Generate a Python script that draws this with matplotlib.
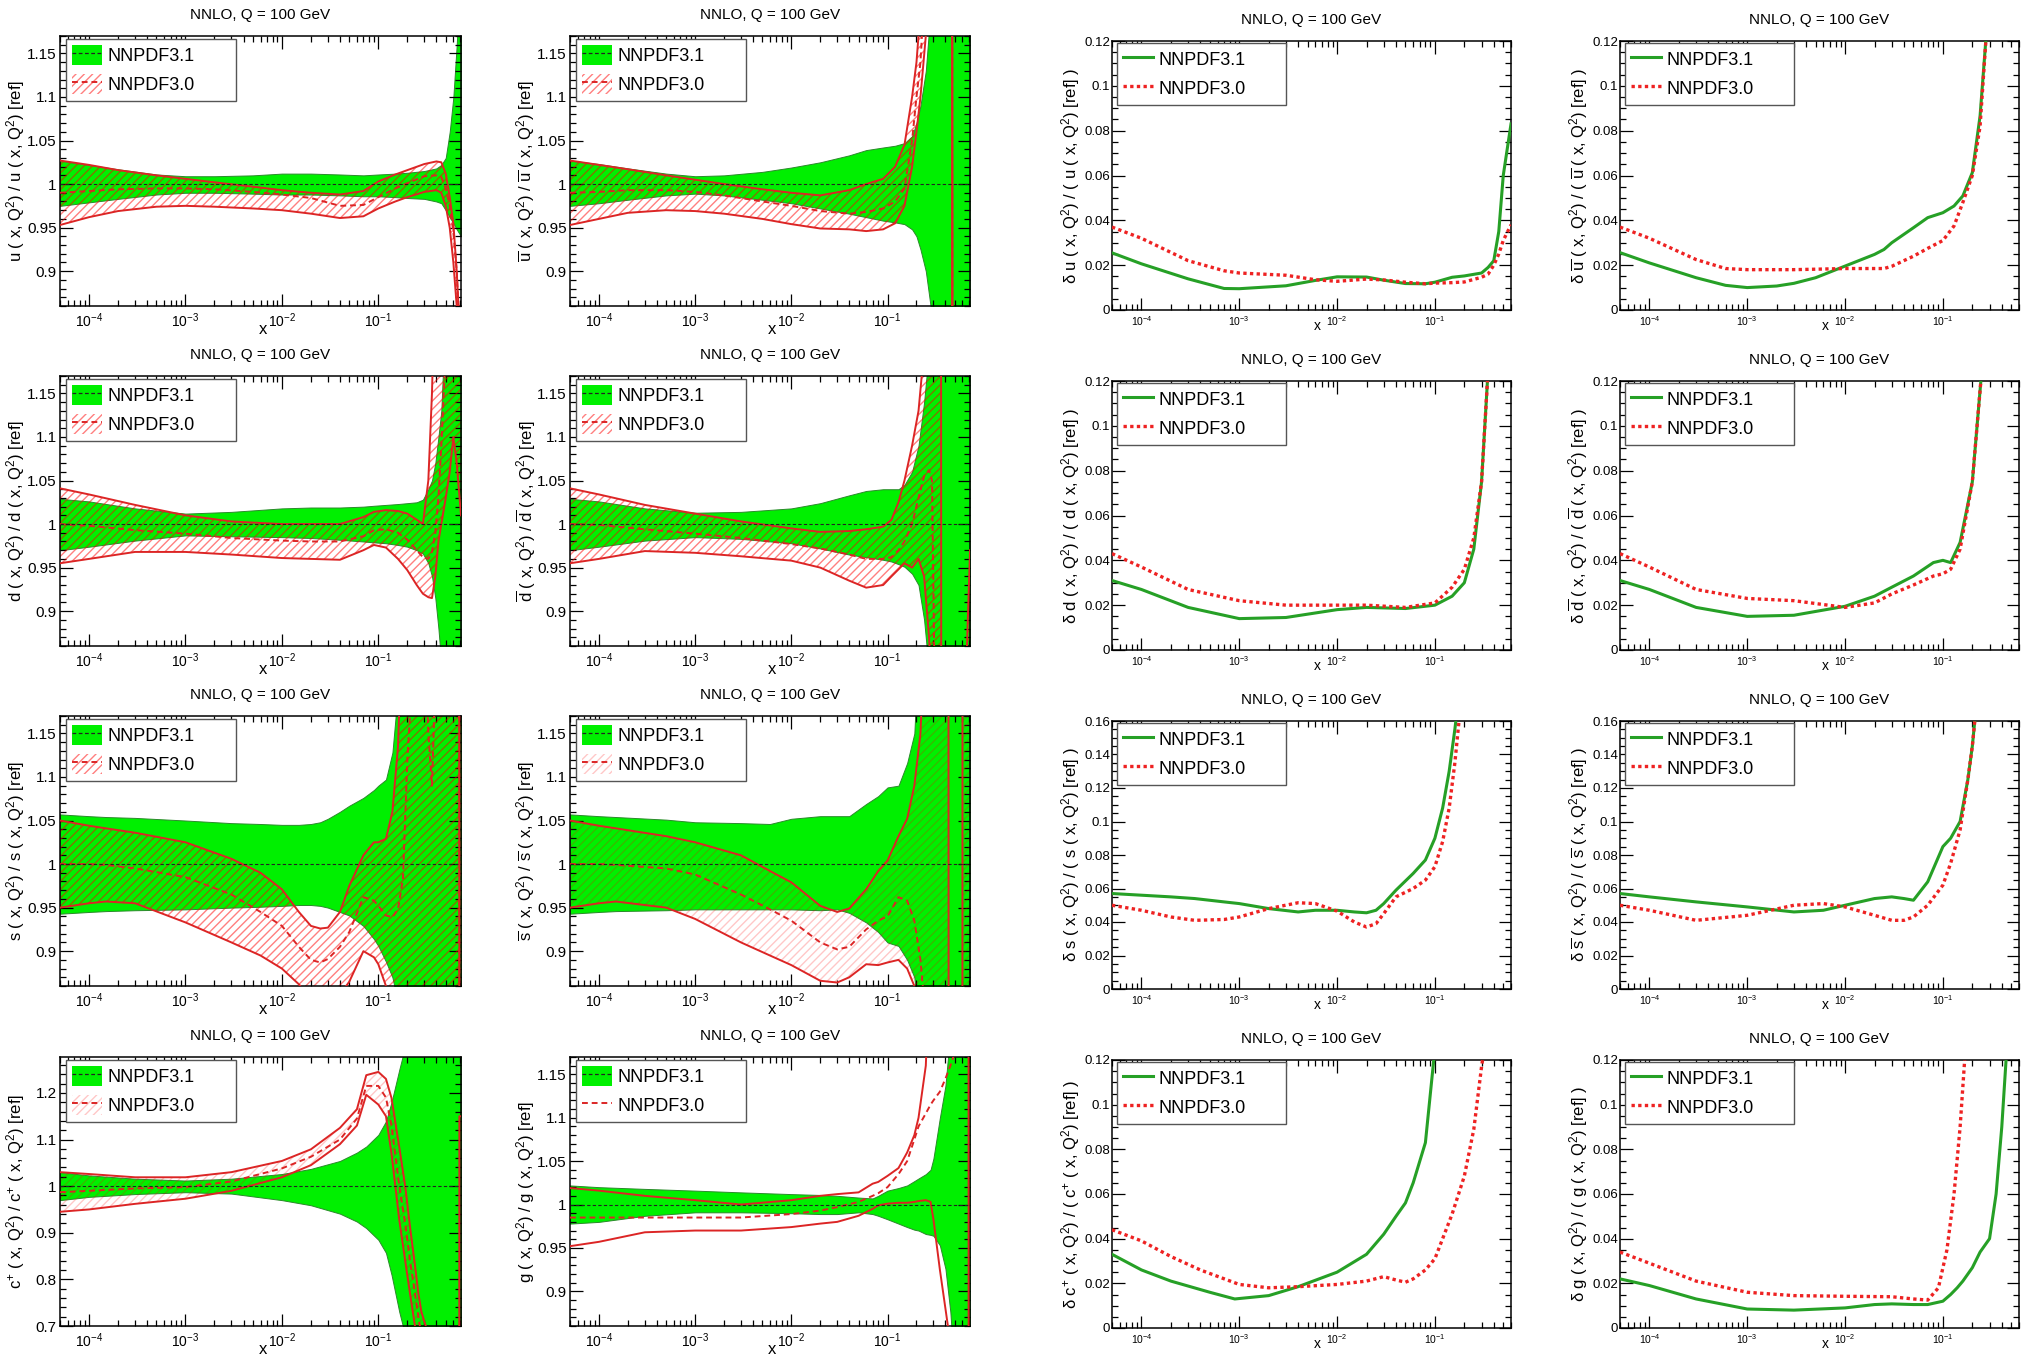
import numpy as np
import matplotlib
matplotlib.use("Agg")
import matplotlib.pyplot as plt
from matplotlib.ticker import MultipleLocator, LogLocator, NullFormatter, FuncFormatter
from matplotlib.patches import Patch
from matplotlib.lines import Line2D

plt.rcParams.update({
    "font.family": ["Liberation Sans", "DejaVu Sans"],
    "mathtext.fontset": "custom",
    "mathtext.rm": "Liberation Sans",
    "mathtext.it": "Liberation Sans:italic",
    "mathtext.bf": "Liberation Sans:bold",
    "mathtext.sf": "Liberation Sans",
    "hatch.linewidth": 1.0,
    "axes.linewidth": 1.1,
})

# ---------------- ratio to NNPDF3.1 central value ----------------
# up quark
U_X = [5e-5, 1e-4, 2e-4, 5e-4, 1e-3, 2e-3, 5e-3, 1e-2, 2e-2, 4e-2, 7e-2, 0.1, 0.15, 0.2, 0.3, 0.4, 0.45, 0.5, 0.55, 0.6, 0.65, 0.72]
U_31_LO = [0.975, 0.979, 0.983, 0.988, 0.990, 0.990, 0.989, 0.988, 0.988, 0.987, 0.986, 0.986, 0.985, 0.984, 0.983, 0.980, 0.978, 0.970, 0.962, 0.955, 0.948, 0.940]
U_31_HI = [1.027, 1.022, 1.017, 1.011, 1.009, 1.009, 1.010, 1.012, 1.012, 1.011, 1.010, 1.011, 1.012, 1.013, 1.015, 1.018, 1.022, 1.030, 1.060, 1.100, 1.160, 1.250]
U_30_C = [0.990, 0.992, 0.994, 0.995, 0.995, 0.994, 0.991, 0.988, 0.984, 0.975, 0.976, 0.985, 0.995, 1.001, 1.009, 1.010, 1.008, 0.995, 0.975, 0.945, 0.900, 0.800]
U_30_LO = [0.953, 0.962, 0.969, 0.974, 0.975, 0.974, 0.972, 0.970, 0.966, 0.961, 0.963, 0.972, 0.980, 0.985, 0.991, 0.993, 0.990, 0.975, 0.950, 0.910, 0.860, 0.750]
U_30_HI = [1.027, 1.022, 1.016, 1.010, 1.006, 1.002, 0.997, 0.993, 0.990, 0.988, 0.992, 1.003, 1.011, 1.016, 1.023, 1.026, 1.025, 1.012, 0.985, 0.955, 0.900, 0.800]

# anti-up quark
UB_X = [5e-5, 1e-4, 2e-4, 5e-4, 1e-3, 2e-3, 5e-3, 1e-2, 2e-2, 4e-2, 6e-2, 0.09, 0.12, 0.15, 0.18, 0.2, 0.22, 0.25, 0.28, 0.32, 0.4, 0.47, 0.472, 0.72]
UB_31_LO = [0.975, 0.978, 0.982, 0.987, 0.989, 0.987, 0.982, 0.978, 0.972, 0.966, 0.962, 0.958, 0.956, 0.954, 0.948, 0.940, 0.925, 0.900, 0.860, 0.800, 0.700, 0.700, 0.700, 0.700]
UB_31_HI = [1.027, 1.023, 1.018, 1.012, 1.009, 1.010, 1.014, 1.019, 1.025, 1.033, 1.039, 1.042, 1.044, 1.047, 1.055, 1.070, 1.090, 1.130, 1.200, 1.300, 1.300, 1.300, 1.300, 1.300]
UB_30_C = [0.990, 0.991, 0.993, 0.993, 0.991, 0.987, 0.980, 0.975, 0.969, 0.966, 0.968, 0.972, 0.980, 0.995, 1.050, 1.100, 1.140, 1.250, 1.300, 1.300, 1.300, 1.300, 0.700, 0.700]
UB_30_LO = [0.953, 0.960, 0.967, 0.970, 0.969, 0.966, 0.960, 0.954, 0.949, 0.948, 0.946, 0.948, 0.955, 0.975, 1.020, 1.060, 1.100, 1.170, 1.300, 1.300, 1.300, 1.300, 0.700, 0.700]
UB_30_HI = [1.027, 1.022, 1.017, 1.010, 1.005, 1.000, 0.994, 0.990, 0.987, 0.993, 1.000, 1.006, 1.020, 1.045, 1.100, 1.140, 1.200, 1.300, 1.300, 1.300, 1.300, 1.300, 0.700, 0.700]

# down quark
D_X = [5e-5, 1e-4, 3e-4, 1e-3, 3e-3, 1e-2, 2e-2, 4e-2, 7e-2, 0.09, 0.12, 0.16, 0.2, 0.25, 0.29, 0.33, 0.36, 0.39, 0.42, 0.45, 0.5, 0.55, 0.6, 0.65, 0.72]
D_31_HI = [1.029, 1.026, 1.018, 1.012, 1.014, 1.018, 1.019, 1.019, 1.020, 1.021, 1.022, 1.023, 1.024, 1.025, 1.028, 1.040, 1.050, 1.070, 1.100, 1.130, 1.250, 1.300, 1.300, 1.300, 1.300]
D_31_LO = [0.970, 0.974, 0.981, 0.987, 0.986, 0.985, 0.984, 0.982, 0.980, 0.979, 0.978, 0.976, 0.974, 0.970, 0.966, 0.955, 0.940, 0.915, 0.880, 0.840, 0.780, 0.700, 0.700, 0.700, 0.700]
D_30_C = [1.000, 0.998, 0.993, 0.989, 0.984, 0.981, 0.980, 0.980, 0.986, 0.993, 0.994, 0.990, 0.982, 0.970, 0.962, 0.960, 0.968, 0.990, 1.030, 1.090, 1.200, 1.300, 1.300, 1.300, 1.300]
D_30_LO = [0.955, 0.960, 0.968, 0.968, 0.965, 0.961, 0.960, 0.959, 0.970, 0.976, 0.973, 0.960, 0.947, 0.930, 0.920, 0.916, 0.915, 0.940, 0.980, 1.000, 1.030, 1.060, 1.100, 1.070, 1.010]
D_30_HI = [1.041, 1.034, 1.022, 1.010, 1.003, 1.000, 1.000, 1.000, 1.008, 1.014, 1.016, 1.015, 1.012, 1.005, 1.000, 1.050, 1.150, 1.300, 1.300, 1.300, 1.300, 1.300, 1.300, 1.300, 1.300]

# anti-down quark
DB_X = [5e-5, 1e-4, 3e-4, 1e-3, 3e-3, 1e-2, 2e-2, 4e-2, 6e-2, 0.09, 0.11, 0.13, 0.15, 0.18, 0.21, 0.24, 0.27, 0.29, 0.31, 0.33, 0.36, 0.362, 0.64, 0.67, 0.72]
DB_31_HI = [1.029, 1.026, 1.018, 1.013, 1.014, 1.018, 1.024, 1.033, 1.038, 1.040, 1.040, 1.040, 1.045, 1.060, 1.090, 1.140, 1.200, 1.300, 1.300, 1.300, 1.300, 1.300, 1.300, 1.300, 1.300]
DB_31_LO = [0.970, 0.974, 0.981, 0.985, 0.983, 0.978, 0.972, 0.965, 0.962, 0.959, 0.957, 0.954, 0.951, 0.943, 0.930, 0.890, 0.830, 0.780, 0.700, 0.700, 0.700, 0.700, 0.700, 0.700, 0.700]
DB_30_C = [1.000, 0.999, 0.994, 0.989, 0.984, 0.977, 0.972, 0.965, 0.960, 0.960, 0.962, 0.970, 0.980, 1.000, 1.030, 1.055, 1.062, 1.050, 0.800, 0.700, 0.700, 0.700, 0.700, 0.700, 0.700]
DB_30_LO = [0.955, 0.960, 0.969, 0.967, 0.963, 0.958, 0.950, 0.935, 0.927, 0.930, 0.940, 0.948, 0.955, 0.950, 0.960, 0.940, 0.870, 0.800, 0.700, 0.700, 0.700, 0.700, 0.700, 0.700, 0.700]
DB_30_HI = [1.041, 1.034, 1.022, 1.012, 1.003, 0.995, 0.991, 0.992, 0.994, 0.997, 1.005, 1.025, 1.050, 1.090, 1.130, 1.200, 1.300, 1.300, 1.300, 1.300, 1.300, 0.700, 0.700, 0.860, 0.970]

# strange quark
S_X = [5e-5, 1e-4, 1.5e-4, 3e-4, 1e-3, 3e-3, 6e-3, 1e-2, 1.5e-2, 2e-2, 2.5e-2, 3e-2, 4e-2, 5e-2, 7e-2, 0.09, 0.1, 0.12, 0.14, 0.16, 0.18, 0.2, 0.25, 0.3, 0.33, 0.36, 0.4, 0.69, 0.692, 0.72]
S_31_HI = [1.057, 1.055, 1.054, 1.053, 1.050, 1.047, 1.046, 1.045, 1.045, 1.046, 1.048, 1.052, 1.060, 1.067, 1.076, 1.085, 1.090, 1.097, 1.128, 1.200, 1.300, 1.300, 1.300, 1.300, 1.300, 1.300, 1.300, 1.300, 1.300, 1.300]
S_31_LO = [0.943, 0.945, 0.946, 0.947, 0.948, 0.950, 0.951, 0.952, 0.953, 0.953, 0.952, 0.950, 0.945, 0.941, 0.929, 0.914, 0.906, 0.888, 0.870, 0.840, 0.780, 0.700, 0.700, 0.700, 0.700, 0.700, 0.700, 0.700, 0.700, 0.700]
S_30_C = [1.000, 1.000, 0.999, 0.995, 0.985, 0.965, 0.945, 0.929, 0.905, 0.890, 0.887, 0.891, 0.905, 0.922, 0.962, 0.958, 0.952, 0.941, 0.939, 0.948, 0.983, 1.120, 1.300, 1.300, 1.150, 1.090, 1.250, 1.300, 0.700, 0.700]
S_30_LO = [0.950, 0.955, 0.957, 0.955, 0.933, 0.910, 0.895, 0.880, 0.862, 0.845, 0.840, 0.840, 0.850, 0.865, 0.900, 0.893, 0.885, 0.860, 0.800, 0.700, 0.700, 0.700, 0.700, 0.700, 0.700, 0.700, 0.700, 0.700, 0.700, 0.700]
S_30_HI = [1.050, 1.044, 1.041, 1.036, 1.025, 1.006, 0.990, 0.971, 0.945, 0.929, 0.926, 0.927, 0.945, 0.975, 1.010, 1.025, 1.025, 1.029, 1.060, 1.135, 1.300, 1.300, 1.300, 1.300, 1.300, 1.300, 1.300, 1.300, 0.700, 0.700]

# anti-strange quark
SB_X = [5e-5, 1e-4, 1.5e-4, 5e-4, 1e-3, 3e-3, 6e-3, 1e-2, 2e-2, 3e-2, 4e-2, 6e-2, 8e-2, 0.1, 0.13, 0.16, 0.19, 0.22, 0.25, 0.43, 0.432, 0.6, 0.602, 0.72]
SB_31_HI = [1.057, 1.055, 1.054, 1.051, 1.048, 1.047, 1.046, 1.052, 1.055, 1.055, 1.055, 1.069, 1.078, 1.088, 1.090, 1.116, 1.150, 1.300, 1.300, 1.300, 1.300, 1.300, 1.300, 1.300]
SB_31_LO = [0.943, 0.945, 0.946, 0.947, 0.948, 0.948, 0.948, 0.948, 0.947, 0.948, 0.944, 0.933, 0.922, 0.910, 0.906, 0.890, 0.870, 0.800, 0.700, 0.700, 0.700, 0.700, 0.700, 0.700]
SB_30_C = [1.000, 1.000, 0.999, 0.995, 0.988, 0.965, 0.948, 0.935, 0.910, 0.902, 0.905, 0.925, 0.935, 0.940, 0.962, 0.958, 0.935, 0.890, 0.820, 0.700, 0.700, 0.700, 0.700, 0.700]
SB_30_LO = [0.950, 0.955, 0.957, 0.950, 0.937, 0.910, 0.895, 0.884, 0.866, 0.864, 0.870, 0.885, 0.884, 0.887, 0.890, 0.880, 0.860, 0.800, 0.700, 0.700, 0.700, 0.700, 0.700, 0.700]
SB_30_HI = [1.050, 1.044, 1.041, 1.032, 1.025, 1.010, 0.992, 0.979, 0.952, 0.945, 0.949, 0.971, 0.992, 1.004, 1.032, 1.052, 1.090, 1.150, 1.300, 1.300, 0.700, 0.700, 1.300, 1.300]

# charm (c+)
C_X = [5e-5, 1e-4, 3e-4, 1e-3, 3e-3, 1e-2, 2e-2, 4e-2, 6e-2, 0.075, 0.1, 0.12, 0.137, 0.165, 0.19, 0.213, 0.24, 0.26, 0.28, 0.31, 0.69, 0.692, 0.72]
C_31_HI = [1.030, 1.023, 1.016, 1.012, 1.016, 1.026, 1.037, 1.054, 1.072, 1.085, 1.110, 1.139, 1.180, 1.250, 1.300, 1.400, 1.400, 1.400, 1.400, 1.400, 1.400, 1.400, 1.400]
C_31_LO = [0.970, 0.977, 0.983, 0.987, 0.984, 0.970, 0.959, 0.941, 0.924, 0.910, 0.885, 0.857, 0.810, 0.730, 0.680, 0.600, 0.600, 0.600, 0.600, 0.600, 0.600, 0.600, 0.600]
C_30_C = [0.987, 0.990, 0.995, 0.998, 1.010, 1.038, 1.063, 1.100, 1.145, 1.215, 1.215, 1.190, 1.130, 1.000, 0.920, 0.840, 0.770, 0.720, 0.680, 0.620, 0.600, 0.600, 0.600]
C_30_LO = [0.945, 0.950, 0.962, 0.973, 0.990, 1.019, 1.045, 1.090, 1.130, 1.196, 1.175, 1.150, 1.070, 0.927, 0.840, 0.770, 0.700, 0.660, 0.620, 0.600, 0.600, 0.600, 0.600]
C_30_HI = [1.030, 1.026, 1.019, 1.019, 1.030, 1.054, 1.079, 1.125, 1.165, 1.238, 1.245, 1.230, 1.189, 1.083, 1.000, 0.913, 0.830, 0.770, 0.730, 0.700, 0.600, 1.150, 1.150]

# gluon
G_X = [5e-5, 1e-4, 3e-4, 1e-3, 3e-3, 1e-2, 2e-2, 3e-2, 5e-2, 7e-2, 0.08, 0.1, 0.13, 0.16, 0.19, 0.21, 0.25, 0.28, 0.3, 0.35, 0.4, 0.45, 0.5, 0.695, 0.697, 0.72]
G_31_HI = [1.022, 1.020, 1.018, 1.016, 1.014, 1.012, 1.011, 1.010, 1.008, 1.007, 1.010, 1.016, 1.019, 1.022, 1.027, 1.030, 1.035, 1.040, 1.053, 1.100, 1.137, 1.200, 1.300, 1.300, 1.300, 1.300]
G_31_LO = [0.978, 0.980, 0.987, 0.991, 0.991, 0.990, 0.989, 0.989, 0.991, 0.989, 0.987, 0.983, 0.978, 0.974, 0.971, 0.970, 0.966, 0.965, 0.964, 0.953, 0.926, 0.876, 0.800, 0.700, 0.700, 0.700]
G_30_C = [0.985, 0.985, 0.985, 0.985, 0.985, 0.989, 0.993, 0.997, 1.003, 1.010, 1.013, 1.020, 1.035, 1.050, 1.075, 1.090, 1.105, 1.115, 1.120, 1.130, 1.145, 1.160, 1.175, 1.300, 1.300, 1.300]
G_30_LO = [0.952, 0.957, 0.968, 0.970, 0.970, 0.974, 0.978, 0.980, 0.987, 0.995, 0.999, 1.001, 1.002, 1.002, 1.003, 1.004, 1.005, 1.003, 0.983, 0.925, 0.880, 0.840, 0.800, 0.700, 0.700, 0.700]
G_30_HI = [1.019, 1.016, 1.010, 1.005, 1.000, 1.005, 1.010, 1.012, 1.014, 1.024, 1.026, 1.033, 1.042, 1.060, 1.080, 1.100, 1.160, 1.300, 1.300, 1.300, 1.300, 1.300, 1.300, 1.300, 0.700, 0.700]

# ---------------- relative PDF uncertainties ----------------
DU_X = [5e-5, 1e-4, 3e-4, 7e-4, 1e-3, 3e-3, 6e-3, 1e-2, 2e-2, 3e-2, 5e-2, 8e-2, 0.1, 0.15, 0.2, 0.3, 0.35, 0.4, 0.45, 0.5, 0.6]
DU_31 = [0.0255, 0.0206, 0.0139, 0.0096, 0.0095, 0.0108, 0.0132, 0.0148, 0.0147, 0.0133, 0.0118, 0.0117, 0.0124, 0.0146, 0.0152, 0.0165, 0.0190, 0.0220, 0.0350, 0.0600, 0.0830]
DU_30 = [0.0370, 0.0320, 0.0220, 0.0175, 0.0165, 0.0155, 0.0135, 0.0128, 0.0138, 0.0134, 0.0124, 0.0117, 0.0120, 0.0122, 0.0125, 0.0146, 0.0160, 0.0200, 0.0250, 0.0310, 0.0380]

DUB_X = [5e-5, 1e-4, 3e-4, 6e-4, 1e-3, 2e-3, 3e-3, 5e-3, 1e-2, 2e-2, 2.5e-2, 3e-2, 5e-2, 7e-2, 0.1, 0.13, 0.16, 0.2, 0.24, 0.28]
DUB_31 = [0.0256, 0.0210, 0.0144, 0.0110, 0.0100, 0.0107, 0.0119, 0.0144, 0.0196, 0.0248, 0.0270, 0.0300, 0.0367, 0.0412, 0.0434, 0.0464, 0.0509, 0.0613, 0.0866, 0.1250]
DUB_30 = [0.0370, 0.0320, 0.0225, 0.0185, 0.0180, 0.0180, 0.0180, 0.0182, 0.0185, 0.0185, 0.0185, 0.0195, 0.0240, 0.0275, 0.0310, 0.0375, 0.0480, 0.0600, 0.0820, 0.1250]

DD_X = [5e-5, 1e-4, 3e-4, 1e-3, 3e-3, 1e-2, 2e-2, 5e-2, 0.1, 0.15, 0.2, 0.25, 0.3, 0.35]
DD_31 = [0.031, 0.027, 0.019, 0.014, 0.0145, 0.018, 0.019, 0.0185, 0.020, 0.024, 0.030, 0.045, 0.075, 0.125]
DD_30 = [0.043, 0.037, 0.027, 0.022, 0.020, 0.020, 0.020, 0.019, 0.021, 0.028, 0.036, 0.050, 0.075, 0.125]

DDB_X = [5e-5, 1e-4, 3e-4, 1e-3, 3e-3, 1e-2, 2e-2, 3e-2, 5e-2, 8e-2, 0.1, 0.12, 0.15, 0.2, 0.25]
DDB_31 = [0.031, 0.027, 0.019, 0.015, 0.0155, 0.0195, 0.024, 0.028, 0.033, 0.039, 0.040, 0.039, 0.048, 0.075, 0.125]
DDB_30 = [0.043, 0.037, 0.027, 0.023, 0.022, 0.019, 0.021, 0.025, 0.029, 0.033, 0.034, 0.036, 0.045, 0.075, 0.125]

DS_X = [5e-5, 1e-4, 2e-4, 3.5e-4, 7e-4, 1e-3, 2e-3, 4e-3, 6e-3, 1e-2, 1.5e-2, 2e-2, 2.5e-2, 3e-2, 4e-2, 6e-2, 8e-2, 0.1, 0.12, 0.14, 0.16, 0.18]
DS_31 = [0.057, 0.056, 0.055, 0.054, 0.052, 0.051, 0.048, 0.046, 0.047, 0.047, 0.046, 0.0455, 0.047, 0.051, 0.059, 0.069, 0.077, 0.090, 0.108, 0.130, 0.155, 0.180]
DS_30 = [0.050, 0.047, 0.043, 0.041, 0.0415, 0.043, 0.048, 0.0515, 0.051, 0.0465, 0.040, 0.037, 0.039, 0.045, 0.055, 0.060, 0.065, 0.073, 0.088, 0.108, 0.135, 0.165]

DSB_X = [5e-5, 1e-4, 3e-4, 1e-3, 3e-3, 6e-3, 1e-2, 2e-2, 3e-2, 4e-2, 5e-2, 7e-2, 0.1, 0.12, 0.15, 0.18, 0.2, 0.22]
DSB_31 = [0.057, 0.055, 0.052, 0.049, 0.046, 0.047, 0.050, 0.054, 0.055, 0.054, 0.053, 0.064, 0.085, 0.090, 0.100, 0.125, 0.145, 0.170]
DSB_30 = [0.050, 0.047, 0.041, 0.044, 0.050, 0.051, 0.049, 0.044, 0.041, 0.041, 0.043, 0.050, 0.062, 0.075, 0.095, 0.125, 0.145, 0.170]

DC_X31 = [5e-5, 1e-4, 2e-4, 5e-4, 9e-4, 2e-3, 4e-3, 1e-2, 2e-2, 3e-2, 4e-2, 5e-2, 6e-2, 8e-2, 0.1]
DC_31 = [0.033, 0.026, 0.021, 0.016, 0.013, 0.0145, 0.0185, 0.025, 0.033, 0.042, 0.050, 0.056, 0.065, 0.083, 0.125]
DC_X30 = [5e-5, 1e-4, 2e-4, 4e-4, 1e-3, 2e-3, 4e-3, 1e-2, 2e-2, 3e-2, 4e-2, 5e-2, 6e-2, 8e-2, 0.1, 0.15, 0.2, 0.25, 0.3, 0.32]
DC_30 = [0.044, 0.039, 0.032, 0.026, 0.0195, 0.018, 0.0185, 0.0195, 0.021, 0.023, 0.0215, 0.0205, 0.022, 0.026, 0.031, 0.051, 0.068, 0.089, 0.117, 0.125]

DG_X31 = [5e-5, 1e-4, 3e-4, 1e-3, 3e-3, 1e-2, 2e-2, 3e-2, 5e-2, 7e-2, 0.1, 0.12, 0.14, 0.16, 0.2, 0.24, 0.3, 0.35, 0.4, 0.45]
DG_31 = [0.022, 0.019, 0.013, 0.0085, 0.008, 0.009, 0.0105, 0.0108, 0.0105, 0.0105, 0.012, 0.015, 0.018, 0.021, 0.027, 0.034, 0.040, 0.060, 0.090, 0.125]
DG_X30 = [5e-5, 1e-4, 3e-4, 1e-3, 3e-3, 1e-2, 3e-2, 5e-2, 7e-2, 0.09, 0.11, 0.13, 0.15, 0.17]
DG_30 = [0.034, 0.029, 0.021, 0.016, 0.0145, 0.0142, 0.014, 0.013, 0.0125, 0.018, 0.035, 0.060, 0.090, 0.125]

LABELS = ["NNPDF3.1", "NNPDF3.0"]
TITLE = "NNLO, Q = 100 GeV"

# ---------------- styling ----------------
LIME = "#00f000"
BAND_EDGE = "#2a8a2a"
RED = "#dc2525"
GREEN_LINE = "#26a026"
DOT_RED = "#ee2222"
DASH = (0, (3, 2))

FIG_W, FIG_H = 2031, 1356
fig = plt.figure(figsize=(FIG_W / 100, FIG_H / 100), dpi=100)
fig.patch.set_facecolor("white")

LEFT_COLS = [(60, 461), (570, 970)]
RIGHT_COLS = [(1112, 1511), (1620, 2019)]
LEFT_ROWS = [(36, 306), (376, 646), (716, 986), (1057, 1326)]
RIGHT_ROWS = [(41, 310), (381, 650), (721, 989), (1060, 1328)]


def make_axes(cols, rows, c, r):
    x0, x1 = cols[c]
    y0, y1 = rows[r]
    return fig.add_axes([x0 / FIG_W, 1 - y1 / FIG_H, (x1 - x0) / FIG_W, (y1 - y0) / FIG_H])


def fmt_g(v, _):
    return f"{round(v, 6):g}"


def style_axes(ax, xmax, ylim, ymaj, ymin, ytick_size, xtick_size, ypad, xpad):
    ax.set_xscale("log")
    ax.set_xlim(5e-5, xmax)
    ax.set_ylim(*ylim)
    ax.xaxis.set_major_locator(LogLocator(base=10.0, numticks=12))
    ax.xaxis.set_minor_locator(LogLocator(base=10.0, subs=np.arange(2, 10), numticks=120))
    ax.xaxis.set_minor_formatter(NullFormatter())
    ax.yaxis.set_major_locator(MultipleLocator(ymaj))
    ax.yaxis.set_minor_locator(MultipleLocator(ymin))
    ax.yaxis.set_major_formatter(FuncFormatter(fmt_g))
    ax.tick_params(which="both", direction="in", top=True, right=True, width=0.9)
    ax.tick_params(which="major", length=9)
    ax.tick_params(which="minor", length=4.5)
    ax.tick_params(axis="y", which="major", labelsize=ytick_size, pad=ypad)
    ax.tick_params(axis="x", which="major", labelsize=xtick_size, pad=xpad)
    ax.set_title(TITLE, fontsize=11, pad=12)


def ratio_panel(ax, x, lo31, hi31, c30, lo30, hi30, ylabel, ylim, ymaj, ymin,
                hatch_alpha, xlab_x):
    style_axes(ax, 0.72, ylim, ymaj, ymin, 11, 10, 2.5, 4)
    ax.fill_between(x, lo31, hi31, facecolor=LIME, edgecolor=BAND_EDGE, lw=0.7, zorder=1)
    hatch_rgba = (1.0, 0.0, 0.0, hatch_alpha)
    if hatch_alpha > 0:
        ax.fill_between(x, lo30, hi30, facecolor="none", edgecolor=hatch_rgba,
                        lw=0, hatch="////", zorder=2)
    ax.axhline(1.0, color="#222222", ls=DASH, lw=0.8, zorder=4)
    ax.plot(x, lo30, color=RED, lw=1.4, zorder=3)
    ax.plot(x, hi30, color=RED, lw=1.4, zorder=3)
    ax.plot(x, c30, color=RED, lw=1.4, ls=DASH, zorder=3)

    h31 = (Patch(facecolor=LIME, edgecolor="none"),
           Line2D([], [], color="#222222", ls=DASH, lw=0.9))
    if hatch_alpha > 0:
        h30 = (Patch(facecolor="white", edgecolor=hatch_rgba, lw=0, hatch="////"),
               Line2D([], [], color=RED, ls=DASH, lw=1.4))
    else:
        h30 = Line2D([], [], color=RED, ls=DASH, lw=1.4)
    add_legend(ax, [h31, h30], 0.015, 0.989)
    ax.text(-0.110, 0.5, ylabel, rotation=90, transform=ax.transAxes,
            ha="center", va="center", fontsize=12)
    ax.text(xlab_x, -0.088, "x", transform=ax.transAxes, ha="center", va="center", fontsize=12)


def unc_panel(ax, x31, d31, x30, d30, ylabel, ymax):
    style_axes(ax, 0.6, (0, ymax), 0.02, 0.005, 9.5, 7.5, 1.5, 3)
    ax.plot(x31, d31, color=GREEN_LINE, lw=2.2, zorder=3)
    ax.plot(x30, d30, color=DOT_RED, lw=2.4, ls=(0, (1, 1)), zorder=3)
    h31 = Line2D([], [], color=GREEN_LINE, lw=2.2)
    h30 = Line2D([], [], color=DOT_RED, lw=2.4, ls=(0, (1, 1)))
    add_legend(ax, [h31, h30], 0.0125, 0.993)
    ax.text(-0.103, 0.5, ylabel, rotation=90, transform=ax.transAxes,
            ha="center", va="center", fontsize=12)
    ax.text(0.515, -0.058, "x", transform=ax.transAxes, ha="center", va="center", fontsize=10)


def add_legend(ax, handles, x0, top):
    leg = ax.legend(handles, LABELS, loc="upper left", bbox_to_anchor=(x0, 0.0, 0.424, top),
                    mode="expand", borderaxespad=0.0, fontsize=13, handlelength=1.67,
                    handleheight=1.33, handletextpad=0.3, labelspacing=0.5, borderpad=0.35,
                    fancybox=False, framealpha=1.0, edgecolor="#555555")
    leg.get_frame().set_linewidth(1.0)
    leg.set_zorder(10)


def lab(q):
    return f"{q} ( x, Q$^{{2}}$) / {q} ( x, Q$^{{2}}$) [ref]"


def dlab(q):
    return f"δ {q} ( x, Q$^{{2}}$) / ( {q} ( x, Q$^{{2}}$) [ref] )"


UBAR = r"$\overline{\mathrm{u}}$"
DBAR = r"$\overline{\mathrm{d}}$"
SBAR = r"$\overline{\mathrm{s}}$"
CPLUS = r"c$^{+}$"

# ratio panels (left half)
ratio_panel(make_axes(LEFT_COLS, LEFT_ROWS, 0, 0), U_X, U_31_LO, U_31_HI, U_30_C, U_30_LO, U_30_HI,
            lab("u"), (0.86, 1.17), 0.05, 0.01, 0.5, 0.505)
ratio_panel(make_axes(LEFT_COLS, LEFT_ROWS, 1, 0), UB_X, UB_31_LO, UB_31_HI, UB_30_C, UB_30_LO, UB_30_HI,
            lab(UBAR), (0.86, 1.17), 0.05, 0.01, 0.5, 0.505)
ratio_panel(make_axes(LEFT_COLS, LEFT_ROWS, 0, 1), D_X, D_31_LO, D_31_HI, D_30_C, D_30_LO, D_30_HI,
            lab("d"), (0.86, 1.17), 0.05, 0.01, 0.5, 0.505)
ratio_panel(make_axes(LEFT_COLS, LEFT_ROWS, 1, 1), DB_X, DB_31_LO, DB_31_HI, DB_30_C, DB_30_LO, DB_30_HI,
            lab(DBAR), (0.86, 1.17), 0.05, 0.01, 0.5, 0.505)
ratio_panel(make_axes(LEFT_COLS, LEFT_ROWS, 0, 2), S_X, S_31_LO, S_31_HI, S_30_C, S_30_LO, S_30_HI,
            lab("s"), (0.86, 1.17), 0.05, 0.01, 0.5, 0.505)
ratio_panel(make_axes(LEFT_COLS, LEFT_ROWS, 1, 2), SB_X, SB_31_LO, SB_31_HI, SB_30_C, SB_30_LO, SB_30_HI,
            lab(SBAR), (0.86, 1.17), 0.05, 0.01, 0.22, 0.505)
ratio_panel(make_axes(LEFT_COLS, LEFT_ROWS, 0, 3), C_X, C_31_LO, C_31_HI, C_30_C, C_30_LO, C_30_HI,
            lab(CPLUS), (0.7, 1.277), 0.1, 0.02, 0.22, 0.505)
ratio_panel(make_axes(LEFT_COLS, LEFT_ROWS, 1, 3), G_X, G_31_LO, G_31_HI, G_30_C, G_30_LO, G_30_HI,
            lab("g"), (0.86, 1.17), 0.05, 0.01, 0.0, 0.505)

# uncertainty panels (right half)
unc_panel(make_axes(RIGHT_COLS, RIGHT_ROWS, 0, 0), DU_X, DU_31, DU_X, DU_30, dlab("u"), 0.12)
unc_panel(make_axes(RIGHT_COLS, RIGHT_ROWS, 1, 0), DUB_X, DUB_31, DUB_X, DUB_30, dlab(UBAR), 0.12)
unc_panel(make_axes(RIGHT_COLS, RIGHT_ROWS, 0, 1), DD_X, DD_31, DD_X, DD_30, dlab("d"), 0.12)
unc_panel(make_axes(RIGHT_COLS, RIGHT_ROWS, 1, 1), DDB_X, DDB_31, DDB_X, DDB_30, dlab(DBAR), 0.12)
unc_panel(make_axes(RIGHT_COLS, RIGHT_ROWS, 0, 2), DS_X, DS_31, DS_X, DS_30, dlab("s"), 0.16)
unc_panel(make_axes(RIGHT_COLS, RIGHT_ROWS, 1, 2), DSB_X, DSB_31, DSB_X, DSB_30, dlab(SBAR), 0.16)
unc_panel(make_axes(RIGHT_COLS, RIGHT_ROWS, 0, 3), DC_X31, DC_31, DC_X30, DC_30, dlab(CPLUS), 0.12)
unc_panel(make_axes(RIGHT_COLS, RIGHT_ROWS, 1, 3), DG_X31, DG_31, DG_X30, DG_30, dlab("g"), 0.12)

fig.savefig("out.png", dpi=100, facecolor="white")
